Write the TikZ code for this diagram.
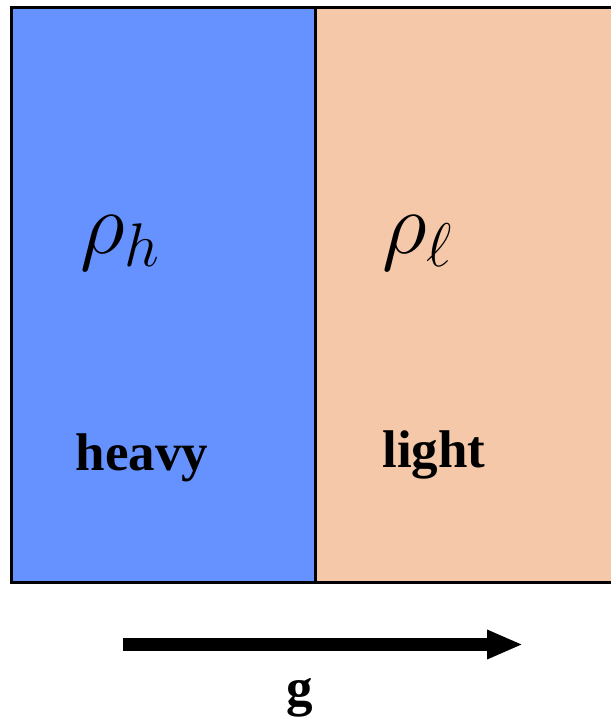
\RequirePackage{fix-cm}
\documentclass[tikz,border=0pt]{standalone}
\usepackage{fontspec}
\setmainfont{Liberation Serif}
\usepackage{tikz}
\usetikzlibrary{arrows.meta,positioning}
\definecolor{heavyBlue}{HTML}{6692FF}
\definecolor{lightPeach}{HTML}{F4C8A8}

\begin{document}
\begin{tikzpicture}[x=1pt,y=-1pt,
  density/.style={font=\fontsize{88}{88}\selectfont, inner sep=0pt},
  fluidlabel/.style={font=\fontsize{53}{53}\selectfont\bfseries, inner sep=0pt}]
  \useasboundingbox (0,0) rectangle (611,721);
  \clip (0,0) rectangle (611,721);
  % the two layers
  \fill[heavyBlue] (11.5,7.5) rectangle (315.5,582);
  \fill[lightPeach] (315.5,7.5) rectangle (620,582);
  \draw[line width=3pt] (620,7.5) -- (11.5,7.5) -- (11.5,582) -- (620,582);
  \draw[line width=3pt] (315.5,7.5) -- (315.5,582);
  \node[density, anchor=base west] (rhoH) at (80,253) {$\rho_h$};
  \node[density, anchor=base west] (rhoL) at (382,253) {$\rho_\ell$};
  \node[fluidlabel, anchor=base] (heavy) at (142,470) {heavy};
  \node[fluidlabel, anchor=base] (light) at (434,467) {light};
  % gravity
  \coordinate (gStart) at (123,644.5);
  \coordinate (gEnd) at (523,644.5);
  \draw[line width=13pt, -{Triangle[length=36pt, width=27pt]}] (gStart) -- (gEnd);
  \node[fluidlabel, anchor=base] (g) at (300,705) {g};
\end{tikzpicture}
\end{document}
